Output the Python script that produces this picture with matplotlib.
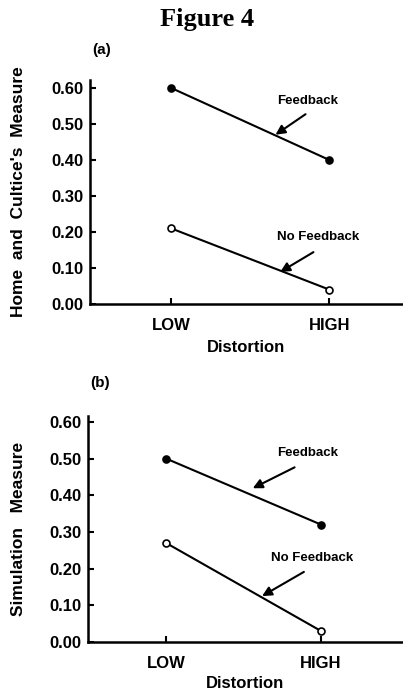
import matplotlib
matplotlib.use('Agg')
import matplotlib.pyplot as plt

plt.rcParams['font.family'] = ['Liberation Sans', 'DejaVu Sans']

# data
distortion = ['LOW', 'HIGH']
yticks = [0.0, 0.1, 0.2, 0.3, 0.4, 0.5, 0.6]
a_feedback = [0.60, 0.40]
a_nofeedback = [0.21, 0.04]
b_feedback = [0.50, 0.32]
b_nofeedback = [0.27, 0.03]

fig = plt.figure(figsize=(4.03, 6.92), dpi=100)
fig.text(0.513, 0.972, 'Figure 4', ha='center', va='center', fontsize=19,
         fontweight='bold', family='Liberation Serif')


def panel(rect, fb, nfb, xlim, ytop, ylabel, ylx, tag, tagpos, ann, xlab_y):
    ax = fig.add_axes(rect)
    x = [0, 1]
    ax.plot(x, fb, '-o', color='black', lw=1.5, ms=5, mfc='black', mec='black', mew=1.2)
    ax.plot(x, nfb, '-o', color='black', lw=1.5, ms=5, mfc='white', mec='black', mew=1.2)
    ax.set_xlim(*xlim)
    ax.set_ylim(0, ytop)
    ax.set_xticks(x)
    ax.set_xticklabels(distortion, fontsize=12, fontweight='bold')
    ax.set_yticks(yticks)
    ax.set_yticklabels(['%.2f' % v for v in yticks], fontsize=12, fontweight='bold')
    ax.tick_params(direction='in', length=4, width=1.5, pad=5)
    ax.tick_params(axis='x', pad=10)
    for s in ['top', 'right']:
        ax.spines[s].set_visible(False)
    for s in ['left', 'bottom']:
        ax.spines[s].set_linewidth(1.8)
    ax.set_ylabel(ylabel, fontsize=12.5, fontweight='bold')
    ax.yaxis.set_label_coords(ylx, 0.5)
    ax.set_xlabel('Distortion', fontsize=12, fontweight='bold')
    ax.xaxis.set_label_coords(0.5, xlab_y)
    fig.text(tagpos[0], tagpos[1], tag, fontsize=11, fontweight='bold', ha='center', va='center')
    for txt, tx, ty, ax0, ay0, ax1, ay1 in ann:
        ax.text(tx, ty, txt, fontsize=9.5, fontweight='bold', ha='left', va='center')
        ax.annotate('', xy=(ax1, ay1), xytext=(ax0, ay0),
                    arrowprops=dict(arrowstyle='-|>', color='black', lw=1.5,
                                    mutation_scale=14, shrinkA=0, shrinkB=0))
    return ax


panel([0.2233, 0.5607, 0.775, 0.3237], a_feedback, a_nofeedback,
      (-0.513, 1.462), 0.622, "Home  and  Cultice's  Measure", -0.205, '(a)', (0.253, 0.928),
      [('Feedback', 0.67, 0.564, 0.85, 0.527, 0.66, 0.47),
       ('No Feedback', 0.67, 0.186, 0.90, 0.144, 0.69, 0.089)], -0.16)

panel([0.2184, 0.0723, 0.7791, 0.3266], b_feedback, b_nofeedback,
      (-0.503, 1.523), 0.616, 'Simulation   Measure', -0.198, '(b)', (0.248, 0.447),
      [('Feedback', 0.72, 0.515, 0.83, 0.476, 0.56, 0.419),
       ('No Feedback', 0.68, 0.229, 0.89, 0.191, 0.62, 0.125)], -0.15)

plt.savefig('out.png', dpi=100)
